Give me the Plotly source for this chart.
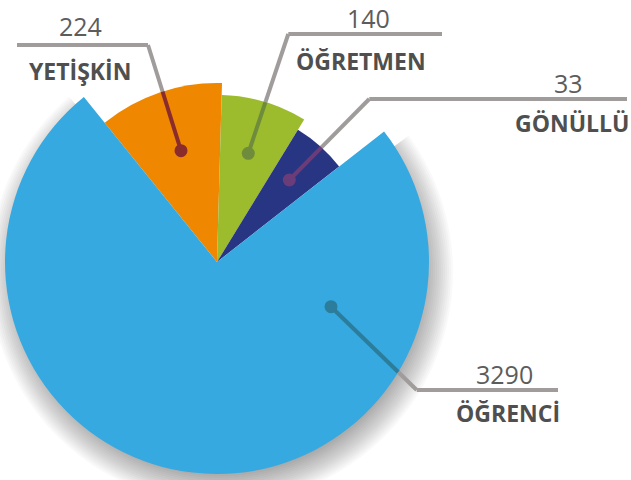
import numpy as np
import plotly.graph_objects as go

# ---- data ----
categories = ["YETİŞKİN", "ÖĞRETMEN", "GÖNÜLLÜ", "ÖĞRENCİ"]
counts = [224, 140, 33, 3290]
angle_share = [11.25, 8.3, 5.7, 74.75]   # % of the circle each slice covers in the picture
slice_radius = [179, 167, 155, 212]

# ---- styles / layout ----
colors = ["#f08700", "#9cbb2d", "#283582", "#36a9e0"]
inner_line = ["#8b2c2c", "#6f8c3c", "#6a3d7a", "#2b7d9b"]
gray = "#a09c9c"
W, H = 631, 480
cx, cy, R = 217, 262, 215
start_angle = -38.9

widths = np.array(angle_share) * 3.6
centers = start_angle + np.cumsum(widths) - widths / 2

fig = go.Figure()

# slices
for i, c in enumerate(categories):
    fig.add_trace(go.Barpolar(
        r=[slice_radius[i]], theta=[centers[i]], width=[widths[i]],
        marker=dict(color=colors[i], line=dict(width=0)),
        name=c, showlegend=False))

# invisible cartesian axes in pixel space for leader lines / labels / shadow
fig.add_trace(go.Scatter(x=[0, W], y=[0, H], mode="markers", marker=dict(opacity=0),
                         hoverinfo="skip", showlegend=False))

shapes = []

# soft shadow behind the big slice
bi = 3
a0 = np.radians(centers[bi] - widths[bi] / 2 + 2)
a1 = np.radians(centers[bi] + widths[bi] / 2 - 2)
scx, scy = 221, 272
for k in range(17):
    rr = slice_radius[bi] - 12 + 2 * k
    angs = np.linspace(a0, a1, 160)
    pts = ["M %.1f,%.1f" % (scx, scy)] + ["L %.1f,%.1f" % (scx + rr * np.sin(a), scy - rr * np.cos(a)) for a in angs]
    shapes.append(dict(type="path", path=" ".join(pts) + " Z", xref="x", yref="y",
                       fillcolor="rgba(0,0,0,0.024)", line=dict(width=0), layer="below"))

dots = [(181, 150.7), (248.3, 153.3), (289.3, 180), (331, 306.7)]
elbows = [(148, 45), (288.3, 34), (369.3, 99), (416.7, 390)]
ends = [17, 442, 627, 558]
num_pos = [(80, 26), (368, 18), (568, 83), (504, 374)]
lab_pos = [(80, 71), (361, 61), (572, 123), (508, 413)]

for i in range(4):
    dx, dy = dots[i]
    ex, ey = elbows[i]
    # where the leader crosses the slice edge
    p = np.array([dx - cx, dy - cy]); d = np.array([ex - dx, ey - dy])
    a = d @ d; b = 2 * p @ d; c = p @ p - slice_radius[i] ** 2
    t = (-b + np.sqrt(b * b - 4 * a * c)) / (2 * a)
    sx, sy = dx + t * d[0], dy + t * d[1]
    shapes.append(dict(type="line", x0=sx, y0=sy, x1=ex, y1=ey, xref="x", yref="y",
                       line=dict(color=gray, width=4), layer="above"))
    shapes.append(dict(type="line", x0=ex, y0=ey, x1=ends[i], y1=ey, xref="x", yref="y",
                       line=dict(color=gray, width=4), layer="above"))
    shapes.append(dict(type="line", x0=dx, y0=dy, x1=sx, y1=sy, xref="x", yref="y",
                       line=dict(color=inner_line[i], width=4), layer="above"))
    shapes.append(dict(type="circle", x0=dx - 6.5, y0=dy - 6.5, x1=dx + 6.5, y1=dy + 6.5,
                       xref="x", yref="y", fillcolor=inner_line[i], line=dict(width=0),
                       layer="above"))

annotations = []
for i in range(4):
    annotations.append(dict(x=num_pos[i][0], y=num_pos[i][1], xref="x", yref="y",
                            text=str(counts[i]), showarrow=False, xanchor="center", yanchor="middle",
                            font=dict(family="Open Sans", size=25, color="#5c5c5c")))
    annotations.append(dict(x=lab_pos[i][0], y=lab_pos[i][1], xref="x", yref="y",
                            text="<b>%s</b>" % categories[i], showarrow=False,
                            xanchor="center", yanchor="middle",
                            font=dict(family="Open Sans", size=23, color="#4f4f4f")))

fig.update_layout(
    width=W, height=H, margin=dict(l=0, r=0, t=0, b=0),
    paper_bgcolor="white", plot_bgcolor="rgba(0,0,0,0)",
    polar=dict(
        domain=dict(x=[(cx - R) / W, (cx + R) / W], y=[(H - cy - R) / H, (H - cy + R) / H]),
        bgcolor="rgba(0,0,0,0)", barmode="overlay",
        radialaxis=dict(range=[0, R], visible=False, showgrid=False),
        angularaxis=dict(rotation=90, direction="clockwise", visible=False, showgrid=False),
    ),
    xaxis=dict(range=[0, W], visible=False, domain=[0, 1], fixedrange=True),
    yaxis=dict(range=[H, 0], visible=False, domain=[0, 1], fixedrange=True),
    shapes=shapes, annotations=annotations,
)

fig.write_html("out.html", config={"displayModeBar": False},
               post_script="document.body.style.margin='0';document.body.style.overflow='hidden';")
